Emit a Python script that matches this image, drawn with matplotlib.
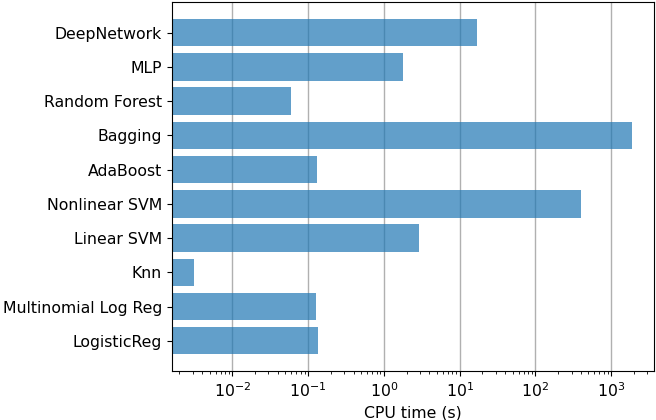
import matplotlib
matplotlib.use("Agg")
import matplotlib.pyplot as plt

plt.rcParams["font.size"] = 11.3

# bottom to top
models = ["LogisticReg", "Multinomial Log Reg", "Knn", "Linear SVM",
          "Nonlinear SVM", "AdaBoost", "Bagging", "Random Forest", "MLP",
          "DeepNetwork"]
cpu_time = [0.135, 0.126, 0.0031, 2.9, 400, 0.13, 1890, 0.059, 1.8, 17]

fig, ax = plt.subplots(figsize=(6.56, 4.2), dpi=100)
ax.barh(models, cpu_time, color="#1f77b4", alpha=0.7, zorder=2)
ax.set_xscale("log")
ax.grid(axis="x", which="major", color="#b0b0b0", linewidth=1, zorder=1)
ax.set_axisbelow(True)
ax.set_xlabel("CPU time (s)")
fig.subplots_adjust(left=0.262, right=0.997, top=0.995, bottom=0.116)
fig.savefig("out.png")
